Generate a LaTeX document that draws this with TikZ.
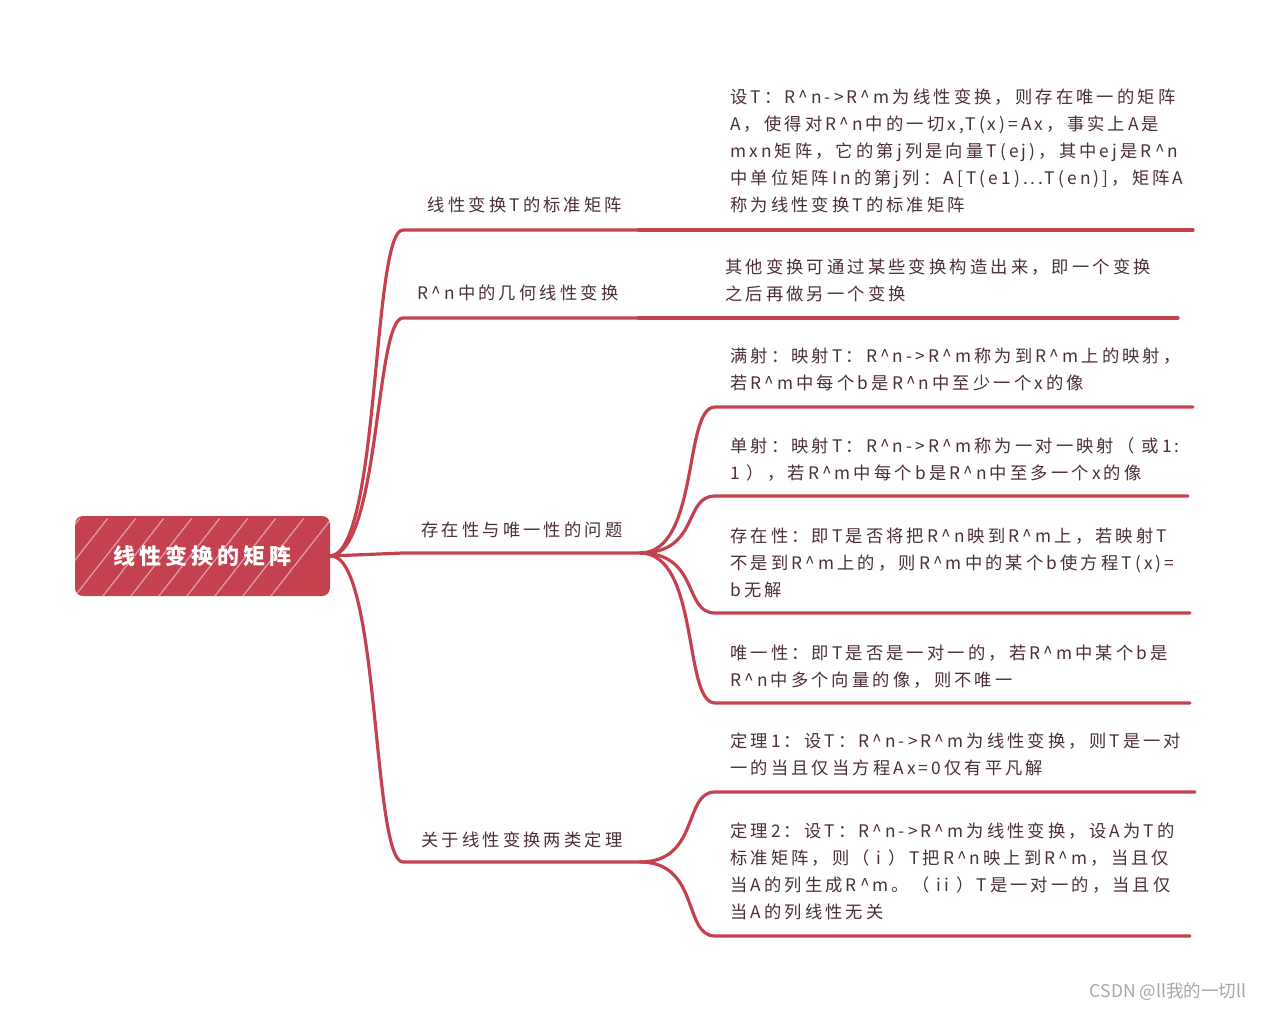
\documentclass[tikz,border=0pt]{standalone}
\usepackage{fontspec}
\setmainfont{Noto Sans CJK SC}
\newfontfamily\txtfont[LetterSpace=18]{Noto Sans CJK SC}
\newfontfamily\rootfont[LetterSpace=18]{Noto Sans CJK SC}
\definecolor{mred}{HTML}{C4424F}
\definecolor{mtext}{HTML}{4A2E3A}
\begin{document}
\begin{tikzpicture}[x=1pt,y=-1pt,every node/.style={inner sep=0pt},
  leaf/.style={anchor=north west,align=left,text=mtext,font={\fontsize{17.3}{27}\selectfont\txtfont}},
  branch/.style={anchor=center,text=mtext,font={\fontsize{17.3}{27}\selectfont\txtfont}},
  link/.style={draw=mred,line width=3.2pt,line cap=round},
  rootbox/.style={fill=mred,rounded corners=8pt,minimum width=255pt,minimum height=80pt,
    text=white,font={\fontsize{22}{26}\selectfont\rootfont\bfseries},
    path picture={\foreach \i in {-190,-162,...,150}
      \draw[white,line width=1.2pt,opacity=0.5] (\i,46) -- ++(72,-92);}}]
\useasboundingbox (0,0) rectangle (1269,1012);

% root
\node[rootbox] (root) at (202.5,556) {线性变换的矩阵};

% branch coordinates
\coordinate (b1s) at (403,230); \coordinate (b1e) at (638,230);
\coordinate (b2s) at (403,318); \coordinate (b2e) at (638,318);
\coordinate (b3s) at (403,553); \coordinate (b3e) at (640,553);
\coordinate (b4s) at (403,862); \coordinate (b4e) at (640,862);

% leaf underline coordinates
\coordinate (l1s) at (715,230); \coordinate (l1e) at (1193,230);
\coordinate (l2s) at (715,318); \coordinate (l2e) at (1178,318);
\coordinate (l3s) at (715,407); \coordinate (l3e) at (1193,407);
\coordinate (l4s) at (715,496); \coordinate (l4e) at (1188,496);
\coordinate (l5s) at (715,613); \coordinate (l5e) at (1190,613);
\coordinate (l6s) at (715,703); \coordinate (l6e) at (1190,703);
\coordinate (l7s) at (715,792); \coordinate (l7e) at (1195,792);
\coordinate (l8s) at (715,936); \coordinate (l8e) at (1190,936);

% root to branches
\draw[link] (root.east) .. controls (380,553) and (372,230) .. (b1s) -- (b1e);
\draw[link] (root.east) .. controls (380,553) and (375,318) .. (b2s) -- (b2e);
\draw[link] (root.east) -- (b3s) -- (b3e);
\draw[link] (root.east) .. controls (380,553) and (372,862) .. (b4s) -- (b4e);

% branches to leaves
\draw[link] (b1e) -- (l1s) -- (l1e);
\draw[link] (b2e) -- (l2s) -- (l2e);
\draw[link] (b3e) .. controls (700,553) and (683,407) .. (l3s) -- (l3e);
\draw[link] (b3e) .. controls (700,553) and (683,496) .. (l4s) -- (l4e);
\draw[link] (b3e) .. controls (700,553) and (683,613) .. (l5s) -- (l5e);
\draw[link] (b3e) .. controls (700,553) and (683,703) .. (l6s) -- (l6e);
\draw[link] (b4e) .. controls (700,862) and (683,792) .. (l7s) -- (l7e);
\draw[link] (b4e) .. controls (700,862) and (683,936) .. (l8s) -- (l8e);

% branch labels
\node[branch] (t1) at (525,205) {线性变换T的标准矩阵};
\node[branch] (t2) at (518,293) {R\^{}n中的几何线性变换};
\node[branch] (t3) at (522,530) {存在性与唯一性的问题};
\node[branch] (t4) at (522,840) {关于线性变换两类定理};

% leaves
\node[leaf] (n1) at (730,88.5) {设T：R\^{}n->R\^{}m为线性变换，则存在唯一的矩阵\\A，使得对R\^{}n中的一切x,T(x)=Ax，事实上A是\\mxn矩阵，它的第j列是向量T(ej)，其中ej是R\^{}n\\中单位矩阵In的第j列：A[T(e1)...T(en)]，矩阵A\\称为线性变换T的标准矩阵};
\node[leaf] (n2) at (725,258.5) {其他变换可通过某些变换构造出来，即一个变换\\之后再做另一个变换};
\node[leaf] (n3) at (730,347.5) {满射：映射T：R\^{}n->R\^{}m称为到R\^{}m上的映射，\\若R\^{}m中每个b是R\^{}n中至少一个x的像};
\node[leaf] (n4) at (730,437.5) {单射：映射T：R\^{}n->R\^{}m称为一对一映射（ 或1:\\1 ），若R\^{}m中每个b是R\^{}n中至多一个x的像};
\node[leaf] (n5) at (730,527.5) {存在性：即T是否将把R\^{}n映到R\^{}m上，若映射T\\不是到R\^{}m上的，则R\^{}m中的某个b使方程T(x)=\\b无解};
\node[leaf] (n6) at (730,644.5) {唯一性：即T是否是一对一的，若R\^{}m中某个b是\\R\^{}n中多个向量的像，则不唯一};
\node[leaf] (n7) at (730,732.5) {定理1：设T：R\^{}n->R\^{}m为线性变换，则T是一对\\一的当且仅当方程Ax=0仅有平凡解};
\node[leaf] (n8) at (730,822.5) {定理2：设T：R\^{}n->R\^{}m为线性变换，设A为T的\\标准矩阵，则（ i ）T把R\^{}n映上到R\^{}m，当且仅\\当A的列生成R\^{}m。（ ii ）T是一对一的，当且仅\\当A的列线性无关};

% watermark
\node[text=black!35,font={\fontsize{17.5}{19}\selectfont}] (wm) at (1168,992) {CSDN @ll我的一切ll};
\end{tikzpicture}
\end{document}
